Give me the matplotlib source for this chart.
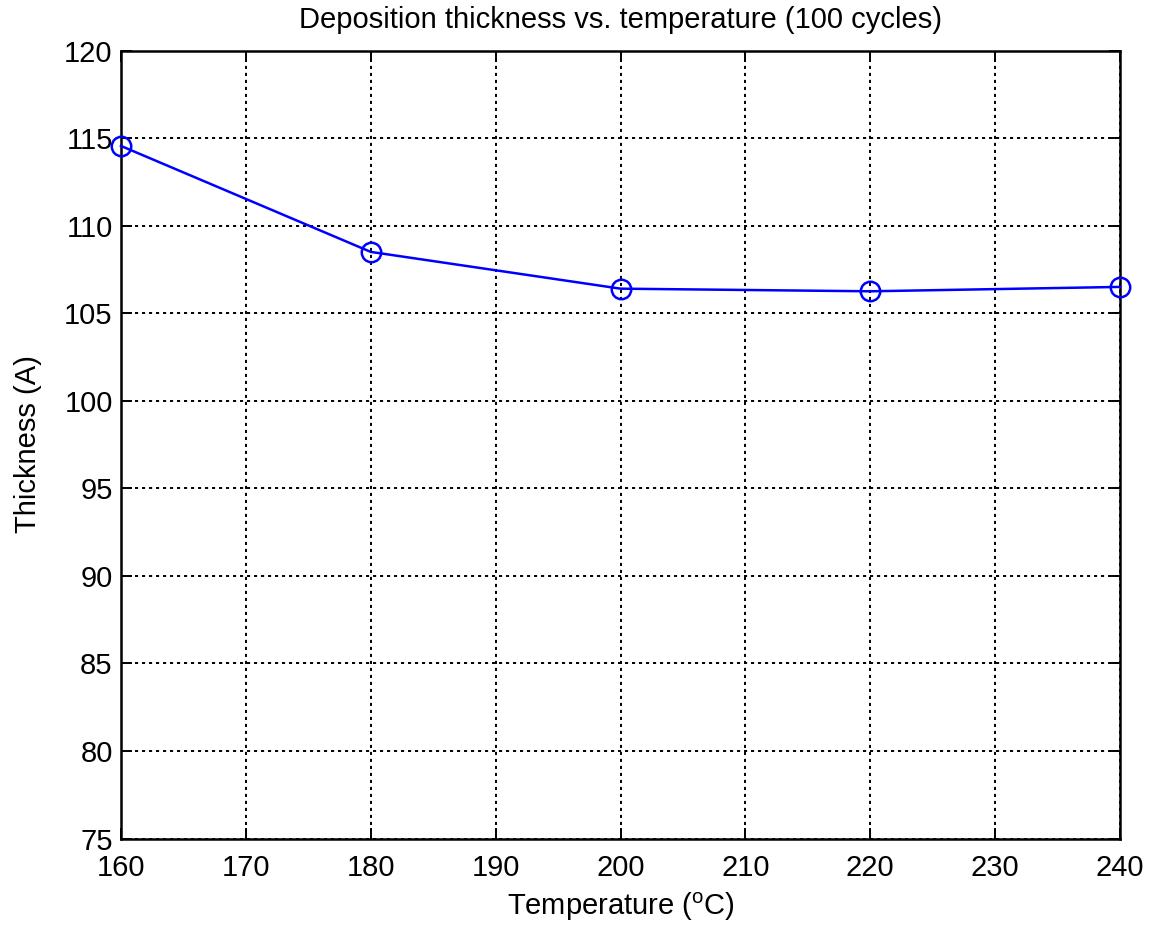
import matplotlib
matplotlib.use("Agg")
import matplotlib.pyplot as plt

temperature = [160, 180, 200, 220, 240]
thickness = [114.55, 108.5, 106.4, 106.25, 106.5]
xticks = list(range(160, 241, 10))
yticks = list(range(75, 121, 5))

plt.rcParams['font.family'] = ['Liberation Sans', 'DejaVu Sans']
plt.rcParams['mathtext.fontset'] = 'custom'
plt.rcParams['mathtext.rm'] = 'Liberation Sans'
plt.rcParams['mathtext.it'] = 'Liberation Sans'

FS = 21
fig = plt.figure(figsize=(11.49, 9.32), dpi=100)
ax = fig.add_axes([0.1053, 0.1003, 0.8695, 0.8455])
ax.plot(temperature, thickness, color='#0000ff', linewidth=1.8, marker='o',
        markersize=14, markerfacecolor='none', markeredgecolor='#0000ff',
        markeredgewidth=1.8, clip_on=False, zorder=3)
ax.set_xlim(160, 240)
ax.set_ylim(75, 120)
ax.set_xticks(xticks)
ax.set_yticks(yticks)
ax.grid(True, color='black', linestyle=(0, (1.6, 2.0)), linewidth=1.4)
ax.tick_params(direction='in', top=True, right=True, length=8, width=1.4,
               labelsize=FS)
ax.tick_params(axis='x', pad=11)
ax.tick_params(axis='y', pad=6)
for s in ax.spines.values():
    s.set_linewidth(1.8)
ax.set_title('Deposition thickness vs. temperature (100 cycles)', fontsize=FS, pad=16)
ax.set_xlabel(r'Temperature ($^{\mathrm{o}}$C)', fontsize=FS, labelpad=6)
ax.set_ylabel('Thickness (A)', fontsize=FS, labelpad=16)
fig.savefig('out.png', dpi=100, facecolor='white')
